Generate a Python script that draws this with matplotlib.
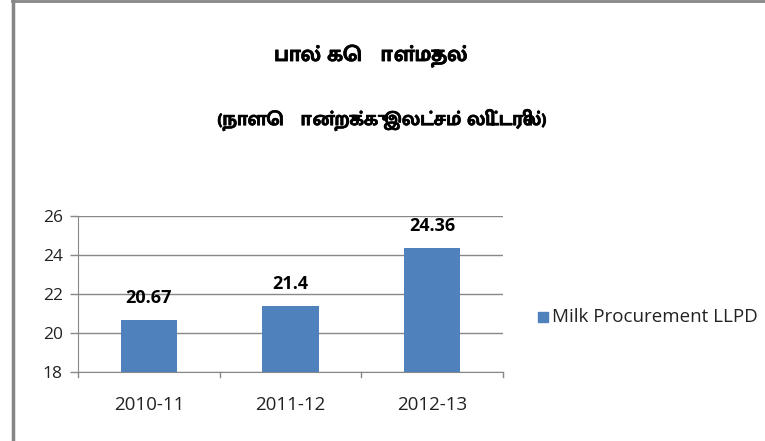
import matplotlib
matplotlib.use('Agg')
import matplotlib.pyplot as plt
import matplotlib.patheffects as pe
from matplotlib import font_manager
from matplotlib.ft2font import FT2Font
from matplotlib.patches import Rectangle
from matplotlib.lines import Line2D

# data
years = ['2010-11', '2011-12', '2012-13']
procurement = [20.67, 21.4, 24.36]
series_name = 'Milk Procurement LLPD'
title1 = 'பால் கொள்முதல்'
title2 = '(நாளொன்றுக்கு இலட்சம் லிட்டரில்)'
yticks = [18, 20, 22, 24, 26]

# find a font that has Tamil glyphs (prefer a bold one)
tamil_font = None
for f in font_manager.fontManager.ttflist:
    try:
        if 0x0BAA in FT2Font(f.fname).get_charmap():
            if tamil_font is None or f.weight in ('bold', 700):
                tamil_font = f.name
    except Exception:
        pass
tamil_family = [tamil_font, 'DejaVu Sans'] if tamil_font else ['DejaVu Sans']

plt.rcParams['font.family'] = ['Open Sans', 'DejaVu Sans']

fig = plt.figure(figsize=(7.65, 4.41), dpi=100)
ax = fig.add_axes([0.102, 0.1565, 0.5555, 0.3537])

x = range(len(years))
ax.bar(x, procurement, width=0.4, color='#4F81BD', zorder=3)
ax.set_ylim(18, 26)
ax.set_xlim(-0.5, 2.5)
ax.set_yticks(yticks)
ax.set_xticks(list(x))
ax.set_xticklabels(years, fontsize=13.5, color='#222222')
ax.tick_params(axis='x', length=0, pad=17)
ax.tick_params(axis='y', length=6, width=1, color='#888888', labelsize=12.5,
               labelcolor='#222222', pad=5)
ax.grid(axis='y', color='#888888', linewidth=1, zorder=0)
for s in ['top', 'right']:
    ax.spines[s].set_visible(False)
ax.spines['left'].set_color('#888888')
ax.spines['bottom'].set_color('#888888')
ax.spines['bottom'].set_zorder(4)

# category boundary ticks on x axis
for b in [-0.5, 0.5, 1.5, 2.5]:
    ax.plot([b, b], [18, 17.72], color='#888888', lw=1, clip_on=False)

for xi, v in zip(x, procurement):
    ax.annotate(str(v), (xi, v), xytext=(0, 9), textcoords='offset points',
                ha='center', va='bottom', fontsize=13, fontweight='bold', color='black')

# legend
fig.patches.append(Rectangle((538 / 765, 1 - 322 / 441), 10 / 765, 10 / 441,
                             transform=fig.transFigure, color='#4F81BD'))
fig.text(552 / 765, 1 - 317 / 441, series_name, fontsize=13.5, color='#222222', va='center')

# titles
bold = [pe.withStroke(linewidth=0.4, foreground='black')]
fig.text(371 / 765, 1 - 56 / 441, title1, family=tamil_family, fontsize=16,
         fontweight='bold', ha='center', va='center', path_effects=bold)
fig.text(382 / 765, 1 - 120 / 441, title2, family=tamil_family, fontsize=14.5,
         fontweight='bold', ha='center', va='center', path_effects=bold)

# outer frame lines (left and top)
fig.add_artist(Line2D([13 / 765, 13 / 765], [0, 1 - 1 / 441], transform=fig.transFigure,
                      color='#868686', lw=2.5))
fig.add_artist(Line2D([12 / 765, 1], [1 - 1 / 441, 1 - 1 / 441], transform=fig.transFigure,
                      color='#868686', lw=2))

fig.savefig('out.png', dpi=100)
